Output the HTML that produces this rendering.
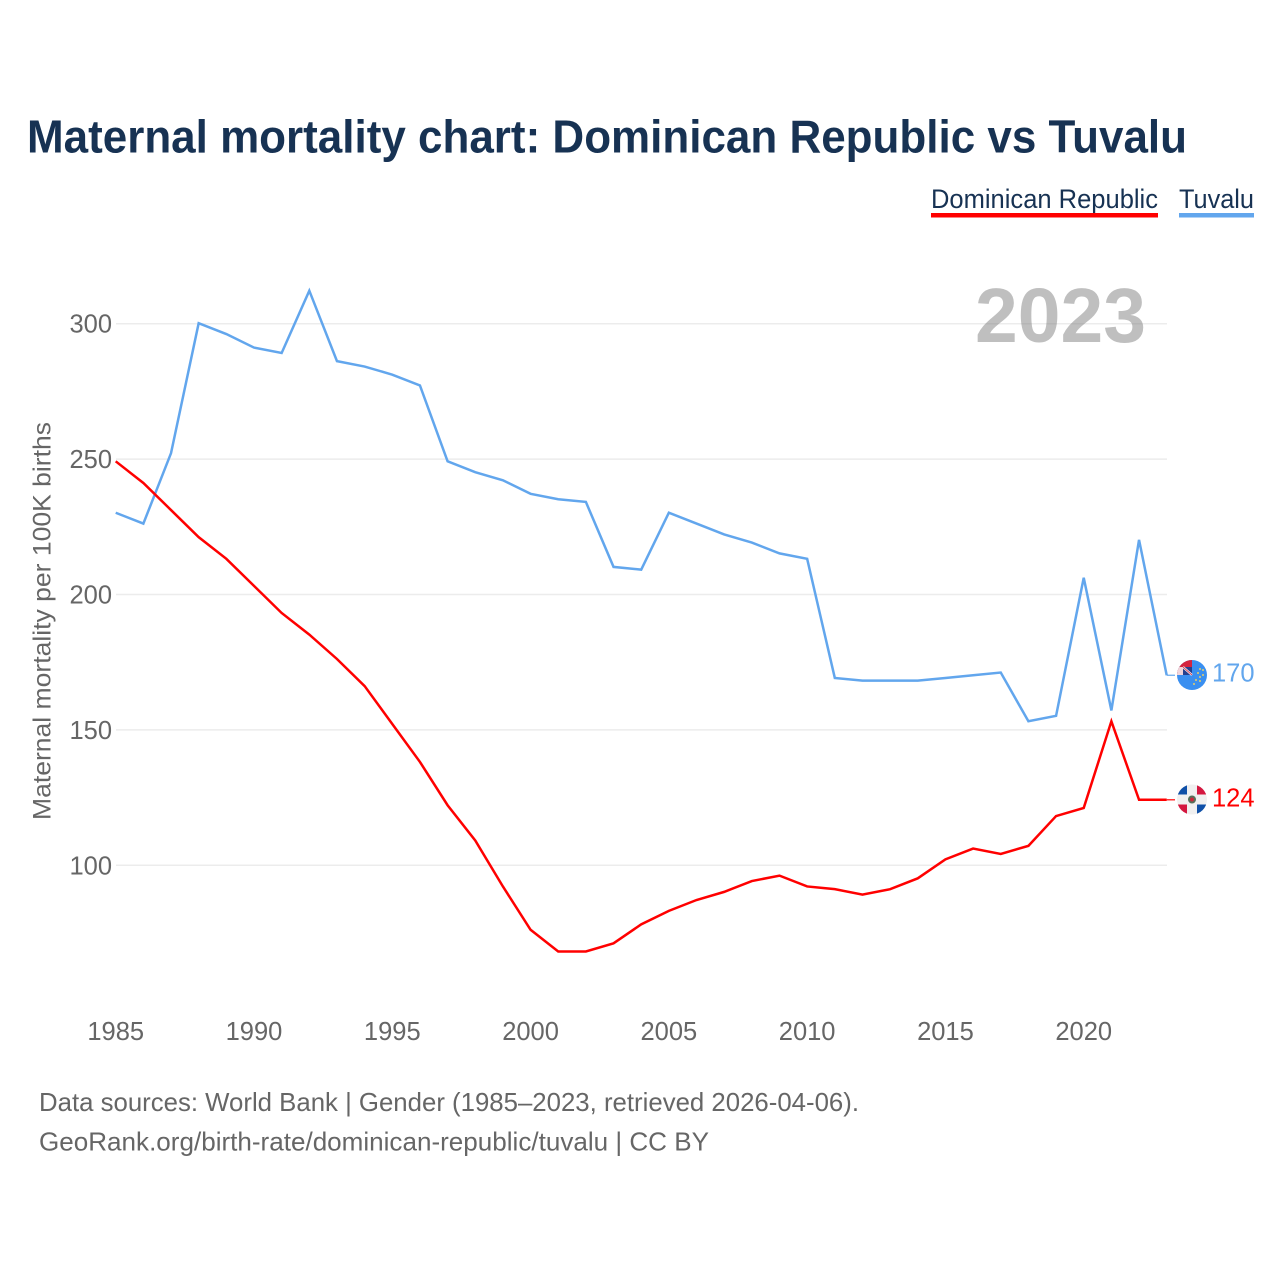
<!DOCTYPE html>
<html lang="en">
<head>
<meta charset="utf-8">
<title>Maternal mortality chart: Dominican Republic vs Tuvalu</title>
<style>
html,body{margin:0;padding:0;background:#fff;width:1280px;height:1280px;overflow:hidden}
svg{display:block}
text{font-family:"Liberation Sans",sans-serif}
</style>
</head>
<body>
<svg id="chart" width="1280" height="1280" viewBox="0 0 1280 1280" xmlns="http://www.w3.org/2000/svg">
  <defs>
    <clipPath id="clip-tv"><circle cx="1192" cy="675" r="15"/></clipPath>
    <clipPath id="clip-do"><circle cx="1192" cy="799.5" r="15"/></clipPath>
  </defs>
  <rect x="0" y="0" width="1280" height="1280" fill="#ffffff"/>
  <text x="27" y="152.5" font-size="46" font-weight="700" fill="#173253" textLength="1160" lengthAdjust="spacingAndGlyphs">Maternal mortality chart: Dominican Republic vs Tuvalu</text>

  <g>
    <g>
      <text x="931" y="208" font-size="27" fill="#173253" textLength="227" lengthAdjust="spacingAndGlyphs">Dominican Republic</text>
      <rect x="931" y="213" width="227" height="4.5" fill="#ff0000"/>
    </g>
    <g>
      <text x="1179" y="208" font-size="27" fill="#173253" textLength="75" lengthAdjust="spacingAndGlyphs">Tuvalu</text>
      <rect x="1179" y="213" width="75" height="4.5" fill="#62a6ed"/>
    </g>
  </g>

  <g id="grid"></g>
  <g id="y-axis"></g>
  <g id="x-axis"></g>

  <text x="0" y="0" transform="translate(50.5 621) rotate(-90)" text-anchor="middle" font-size="25" fill="#666666" textLength="398" lengthAdjust="spacingAndGlyphs">Maternal mortality per 100K births</text>

  <text x="975" y="342" font-size="77" font-weight="700" fill="#777777" fill-opacity="0.47" textLength="171" lengthAdjust="spacingAndGlyphs">2023</text>

  <g id="series"></g>

  <g>
    <g id="flag-tv-group" clip-path="url(#clip-tv)">
      <rect x="1177" y="660" width="30" height="30" fill="#3a8ff0"/>
      <rect x="1177" y="660" width="15" height="15" fill="#d5233f"/>
      <rect x="1177" y="667" width="6" height="8" fill="#f0d5da"/>
      <rect x="1183" y="667" width="9" height="8" fill="#25408f"/>
      <path d="M1183 667 L1192 675" stroke="#f4f0f0" stroke-width="2.2"/>
      <path d="M1183 667 L1192 675" stroke="#d5233f" stroke-width="0.8"/>
      <g fill="#e6cf6a">
        <circle cx="1200" cy="669" r="1"/><circle cx="1203" cy="670" r="1"/><circle cx="1198" cy="673" r="1"/>
        <circle cx="1203" cy="675" r="1"/><circle cx="1200" cy="677" r="1"/><circle cx="1196" cy="680" r="1"/>
        <circle cx="1200" cy="681" r="1"/><circle cx="1194" cy="684" r="1"/>
      </g>
    </g>
  </g>
  <g>
    <g id="flag-do-group" clip-path="url(#clip-do)">
      <rect x="1177" y="784.5" width="30" height="30" fill="#f0f0f0"/>
      <rect x="1177" y="784.5" width="10" height="10" fill="#0f50a8"/>
      <rect x="1197" y="784.5" width="10" height="10" fill="#d4173f"/>
      <rect x="1177" y="804.5" width="10" height="10" fill="#d4173f"/>
      <rect x="1197" y="804.5" width="10" height="10" fill="#0f50a8"/>
      <circle cx="1192" cy="799.5" r="4" fill="#55705a"/>
      <circle cx="1192" cy="799.5" r="2" fill="#c8283c"/>
    </g>
  </g>

  <g id="end-labels"></g>

  <text x="39" y="1111" font-size="26" fill="#666666" textLength="820" lengthAdjust="spacingAndGlyphs">Data sources: World Bank | Gender (1985–2023, retrieved 2026-04-06).</text>
  <text x="39" y="1150.5" font-size="26" fill="#666666" textLength="670" lengthAdjust="spacingAndGlyphs">GeoRank.org/birth-rate/dominican-republic/tuvalu | CC BY</text>
</svg>
<script>
const years = [1985,1986,1987,1988,1989,1990,1991,1992,1993,1994,1995,1996,1997,1998,1999,2000,2001,2002,2003,2004,2005,2006,2007,2008,2009,2010,2011,2012,2013,2014,2015,2016,2017,2018,2019,2020,2021,2022,2023];
const dominicanRepublic = [249,241,231,221,213,203,193,185,176,166,152,138,122,109,92,76,68,68,71,78,83,87,90,94,96,92,91,89,91,95,102,106,104,107,118,121,153,124,124];
const tuvalu = [230,226,252,300,296,291,289,312,286,284,281,277,249,245,242,237,235,234,210,209,230,226,222,219,215,213,169,168,168,168,169,170,171,153,155,206,157,220,170];
const yTicks = [100,150,200,250,300];
const xTicks = [1985,1990,1995,2000,2005,2010,2015,2020];

const NS = 'http://www.w3.org/2000/svg';
function xScale(year){ return 115.7 + (year - 1985) * (1166.7 - 115.7) / 38; }
function yScale(value){ return 864.8 - (value - 100) * (864.8 - 323.2) / 200; }
function make(tag, attrs, parent, txt){
  const el = document.createElementNS(NS, tag);
  for (const k in attrs) el.setAttribute(k, attrs[k]);
  if (txt !== undefined) el.textContent = txt;
  parent.appendChild(el);
  return el;
}
const grid = document.getElementById('grid');
const yAxis = document.getElementById('y-axis');
const xAxis = document.getElementById('x-axis');
const seriesGroup = document.getElementById('series');
const endLabels = document.getElementById('end-labels');

yTicks.forEach(function(t){
  const gy = yScale(t) + 0.5;
  const line = make('line', {x1:116, x2:1167, y1:gy, y2:gy, stroke:'#ececec', 'stroke-width':1.5}, grid);
  
  
  const label = make('text', {x:112, y:gy+9, 'text-anchor':'end', 'font-size':25.5, fill:'#666666'}, yAxis, String(t));
  
  
});
xTicks.forEach(function(t){
  const label = make('text', {x:xScale(t), y:1040, 'text-anchor':'middle', 'font-size':25.5, fill:'#666666'}, xAxis, String(t));
  
  
});

function drawSeries(values, color, key){
  const pts = values.map(function(v,i){ return xScale(years[i]).toFixed(2) + ',' + yScale(v).toFixed(2); }).join(' ');
  const line = make('polyline', {points:pts, fill:'none', stroke:color, 'stroke-width':2.5, 'stroke-linejoin':'miter'}, seriesGroup);
  
  
  const last = values[values.length-1];
  const lastY = yScale(last);
  const lead = make('line', {x1:xScale(years[years.length-1]), x2:1175, y1:lastY, y2:lastY, stroke:color, 'stroke-width':1.2}, seriesGroup);
  
  
  const label = make('text', {x:1212, y:lastY+6.5, 'font-size':25.5, fill:color}, endLabels, String(last));
  
  
}
drawSeries(tuvalu, '#62a6ed', 'tuvalu');
drawSeries(dominicanRepublic, '#ff0000', 'dominican-republic');
</script>
</body>
</html>
